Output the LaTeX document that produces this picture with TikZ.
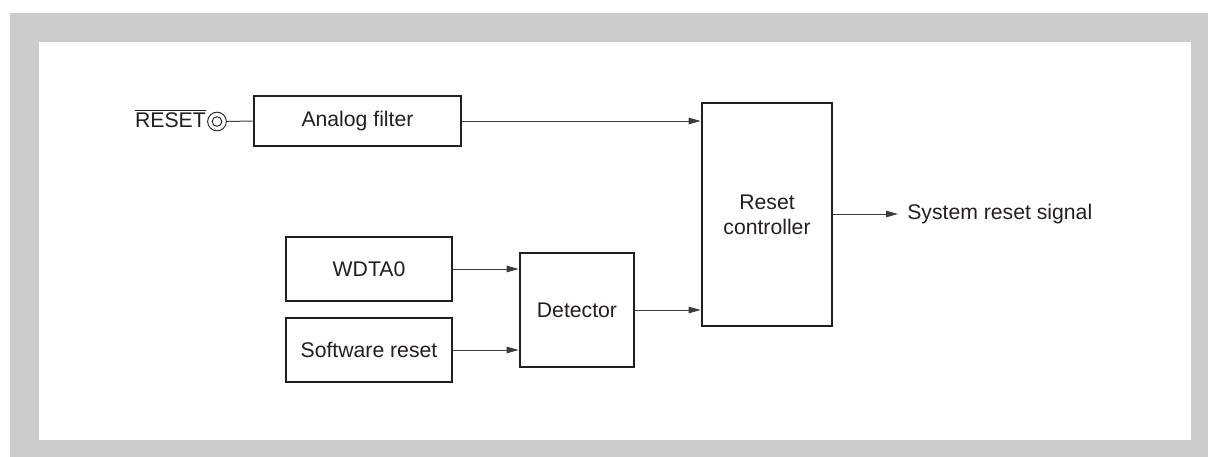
\documentclass[tikz,border=0pt]{standalone}
\usepackage{fontspec}
\setmainfont{Liberation Sans}
\usetikzlibrary{arrows.meta}
\definecolor{frame}{HTML}{CCCCCC}
\definecolor{ink}{HTML}{231F20}
\definecolor{wire}{HTML}{3C3C3C}
\begin{document}
\begin{tikzpicture}[x=0.75pt,y=-0.75pt,
  every node/.style={text=ink,font=\fontsize{15.9}{18.75}\selectfont},
  blk/.style={draw=ink,line width=1.9pt,fill=white,inner sep=0pt,align=center},
  arr/.style={draw=wire,line width=0.75pt,-{Triangle[length=9pt,width=4.8pt]}},
  wireline/.style={draw=wire,line width=0.75pt}]
\useasboundingbox (0,0) rectangle (1208,457);
\fill[frame] (10,13) rectangle (1208,457);
\fill[white] (39,42) rectangle (1191,440);
% blocks
\node[blk,minimum width=155.25pt,minimum height=37.5pt] (af) at (357.5,121) {Analog filter};
\node[blk,minimum width=97.5pt,minimum height=167.25pt] (rc) at (767,214.5) {Reset\\controller};
\node[blk,minimum width=124.5pt,minimum height=48pt] (wd) at (369,269) {WDTA0};
\node[blk,minimum width=124.5pt,minimum height=48pt] (sw) at (369,350) {Software reset};
\node[blk,minimum width=85.5pt,minimum height=85.5pt] (det) at (577,310) {Detector};
% reset pin
\node[circle,draw=ink,line width=0.7pt,minimum size=14pt,inner sep=0pt] (pin) at (217,121.5) {};
\draw[ink,line width=0.7pt] (pin.center) circle (3.6pt);
\node[anchor=east,inner sep=0pt] (rst) at (206,118.5) {$\overline{\mbox{RESET}}$};
\node[anchor=west,inner sep=0pt] (out) at (907,214) {System reset signal};
\coordinate (outend) at (898,214);
% connectors
\draw[wireline] (pin.east) -- (af.west);
\draw[arr] (af.east) -- (af.east -| rc.west);
\draw[arr] (wd.east) -- (wd.east -| det.west);
\draw[arr] (sw.east) -- (sw.east -| det.west);
\draw[arr] (det.east) -- (det.east -| rc.west);
\draw[arr] (rc.east |- outend) -- (outend);
\end{tikzpicture}
\end{document}
